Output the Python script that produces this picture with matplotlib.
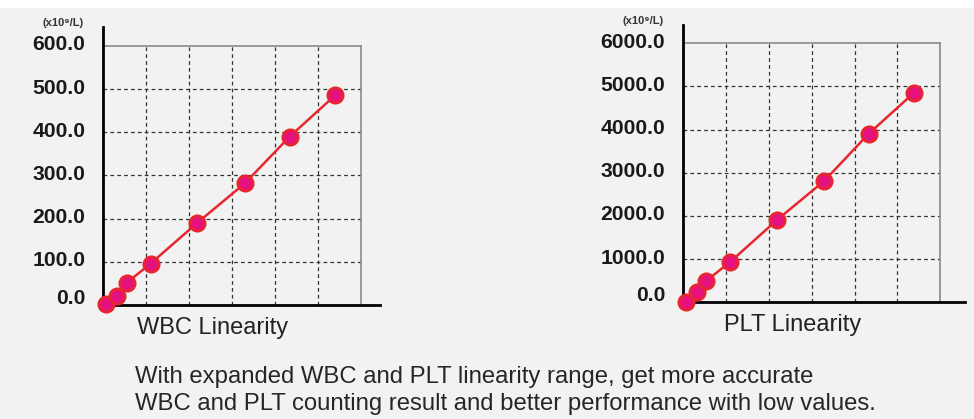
import matplotlib.pyplot as plt
from matplotlib.transforms import offset_copy

plt.rcParams['font.family'] = ['Liberation Sans', 'DejaVu Sans']

x_levels = [0.06, 0.31, 0.54, 1.10, 2.18, 3.29, 4.33, 5.39]
wbc_values = [2, 22, 51, 96, 190, 282, 390, 486]
plt_values = [14, 232, 500, 940, 1900, 2810, 3905, 4855]

wbc_ticks = [0, 100, 200, 300, 400, 500, 600]
plt_ticks = [0, 1000, 2000, 3000, 4000, 5000, 6000]
n_cols = 6

BG = '#f2f2f2'
LINE_RED = '#e8262f'
DOT_FILL = '#e5127d'


def draw_panel(fig, rect, values, ticks, x_max, y_max, title):
    ax = fig.add_axes(rect)
    ax.set_facecolor('none')
    top = ticks[-1]
    ax.set_xlim(0, x_max)
    ax.set_ylim(0, y_max)

    # dashed inner grid, stopping at the frame
    for t in ticks[1:-1]:
        ax.hlines(t, 0, n_cols, colors='#333333', linewidth=0.9,
                  linestyles=(0, (3, 2.5)))
    for c in range(1, n_cols):
        ax.vlines(c, 0, top, colors='#333333', linewidth=0.9,
                  linestyles=(0, (3, 2.5)))
    # thin gray frame (top and right)
    ax.plot([0, n_cols], [top, top], color='#8a8a8a', linewidth=1.2)
    ax.plot([n_cols, n_cols], [0, top], color='#8a8a8a', linewidth=1.2)

    ax.plot(x_levels, values, color=LINE_RED, linewidth=1.8, zorder=3,
            marker='o', markersize=11, markerfacecolor=DOT_FILL,
            markeredgecolor=LINE_RED, markeredgewidth=2.0, clip_on=False)

    for s in ['top', 'right']:
        ax.spines[s].set_visible(False)
    for s in ['left', 'bottom']:
        ax.spines[s].set_linewidth(2.0)
        ax.spines[s].set_color('black')
    ax.set_xticks([])
    ax.set_yticks([])

    # tick labels placed by hand (the 0.0 label sits a bit above the axis)
    trans = ax.get_yaxis_transform()
    for i, t in enumerate(ticks):
        tr = offset_copy(trans, fig=fig, x=-18, y=7 if i == 0 else 1,
                         units='dots')
        ax.text(0, t, f'{t:.1f}', transform=tr, ha='right', va='center',
                fontsize=15.2, fontweight='bold', color='#1a1a1a')

    tr = offset_copy(ax.transAxes, fig=fig, x=-40, y=4, units='dots')
    ax.text(0, 1, '(x10\u2079/L)', transform=tr, ha='center', va='center',
            fontsize=8, fontweight='bold', color='#333333')

    tr = offset_copy(ax.transData, fig=fig, x=0, y=-23, units='dots')
    ax.text(n_cols / 2 - 0.45, 0, title, transform=tr, ha='center',
            va='center', fontsize=17, color='#222222')
    return ax


fig = plt.figure(figsize=(9.74, 4.19), dpi=100, facecolor=BG)
fig.patches.append(plt.Rectangle((0, 0.981), 1, 0.02, transform=fig.transFigure,
                                 facecolor='white', edgecolor='none'))

draw_panel(fig, [103.3 / 974, 114 / 419, 276.7 / 974, 278 / 419],
           wbc_values, wbc_ticks, 6.43, 644, 'WBC Linearity')
draw_panel(fig, [683.3 / 974, 116.7 / 419, 281.7 / 974, 277.3 / 419],
           plt_values, plt_ticks, 6.58, 6424, 'PLT Linearity')

fig.text(135 / 974, 1 - 377 / 419,
         'With expanded WBC and PLT linearity range, get more accurate',
         ha='left', va='center', fontsize=17.2, color='#262626')
fig.text(135 / 974, 1 - 404 / 419,
         'WBC and PLT counting result and better performance with low values.',
         ha='left', va='center', fontsize=17.2, color='#262626')

fig.savefig('out.png', dpi=100, facecolor=BG)
